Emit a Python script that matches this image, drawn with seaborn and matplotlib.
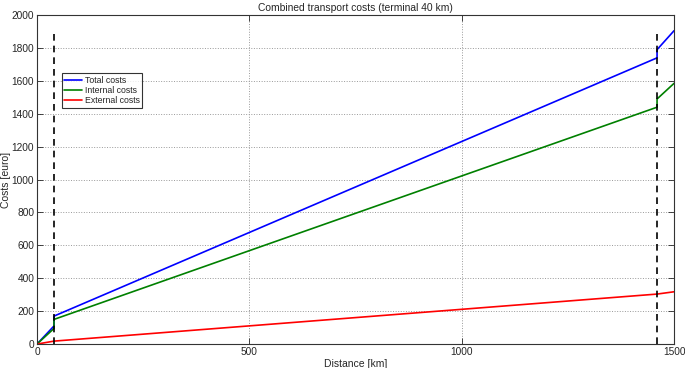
import pandas as pd
import numpy as np
import matplotlib.pyplot as plt
import seaborn as sns

# data
distance = [0, 40, 40, 1460, 1460, 1500]
total_costs = [0, 110, 170, 1740, 1790, 1905]
internal_costs = [0, 95, 150, 1440, 1490, 1585]
external_costs = [0, 18, 18, 304, 304, 318]
terminal_km = [40, 1460]
terminal_top = 1900

series = ['Total costs', 'Internal costs', 'External costs']
colors = ['#0000ff', '#008000', '#ff0000']

df = pd.concat([
    pd.DataFrame({'Distance': distance, 'Costs': vals, 'series': name})
    for name, vals in zip(series, [total_costs, internal_costs, external_costs])
])

sns.set_style('ticks')
plt.rcParams['font.family'] = ['Liberation Sans', 'DejaVu Sans']

fig = plt.figure(figsize=(6.85, 3.68), dpi=100)
ax = fig.add_axes([0.054, 0.065, 0.93, 0.894])

sns.lineplot(data=df, x='Distance', y='Costs', hue='series', hue_order=series,
             palette=colors, estimator=None, sort=False, units='series',
             linewidth=1.2, ax=ax)

# terminal markers
ax.vlines(terminal_km, 0, terminal_top, colors='black', linestyles=(0, (4, 3)), linewidth=1.2)

ax.set_xlim(0, 1500)
ax.set_ylim(0, 2000)
ax.set_xticks([0, 500, 1000, 1500])
ax.set_yticks(np.arange(0, 2001, 200))
ax.grid(True, linestyle=':', color='#999999', linewidth=0.7)
ax.tick_params(direction='in', length=4, labelsize=7.3, top=True, right=True, width=0.6, pad=2)
for s in ax.spines.values():
    s.set_linewidth(0.8)
    s.set_color('#333333')

ax.set_xlabel('Distance [km]', fontsize=7.5)
ax.set_ylabel('Costs [euro]', fontsize=7.5)
ax.xaxis.set_label_coords(0.5, -0.044)
ax.yaxis.set_label_coords(-0.041, 0.5)
ax.set_title('Combined transport costs (terminal 40 km)', fontsize=7.4, pad=3)

leg = ax.legend(loc='upper left', bbox_to_anchor=(0.039, 0.824), fontsize=6.3,
                frameon=True, fancybox=False, edgecolor='black', handlelength=2.0,
                borderpad=0.3, labelspacing=0.15, handletextpad=0.3, borderaxespad=0)
leg.get_frame().set_linewidth(0.8)

fig.savefig('out.png', dpi=100)
